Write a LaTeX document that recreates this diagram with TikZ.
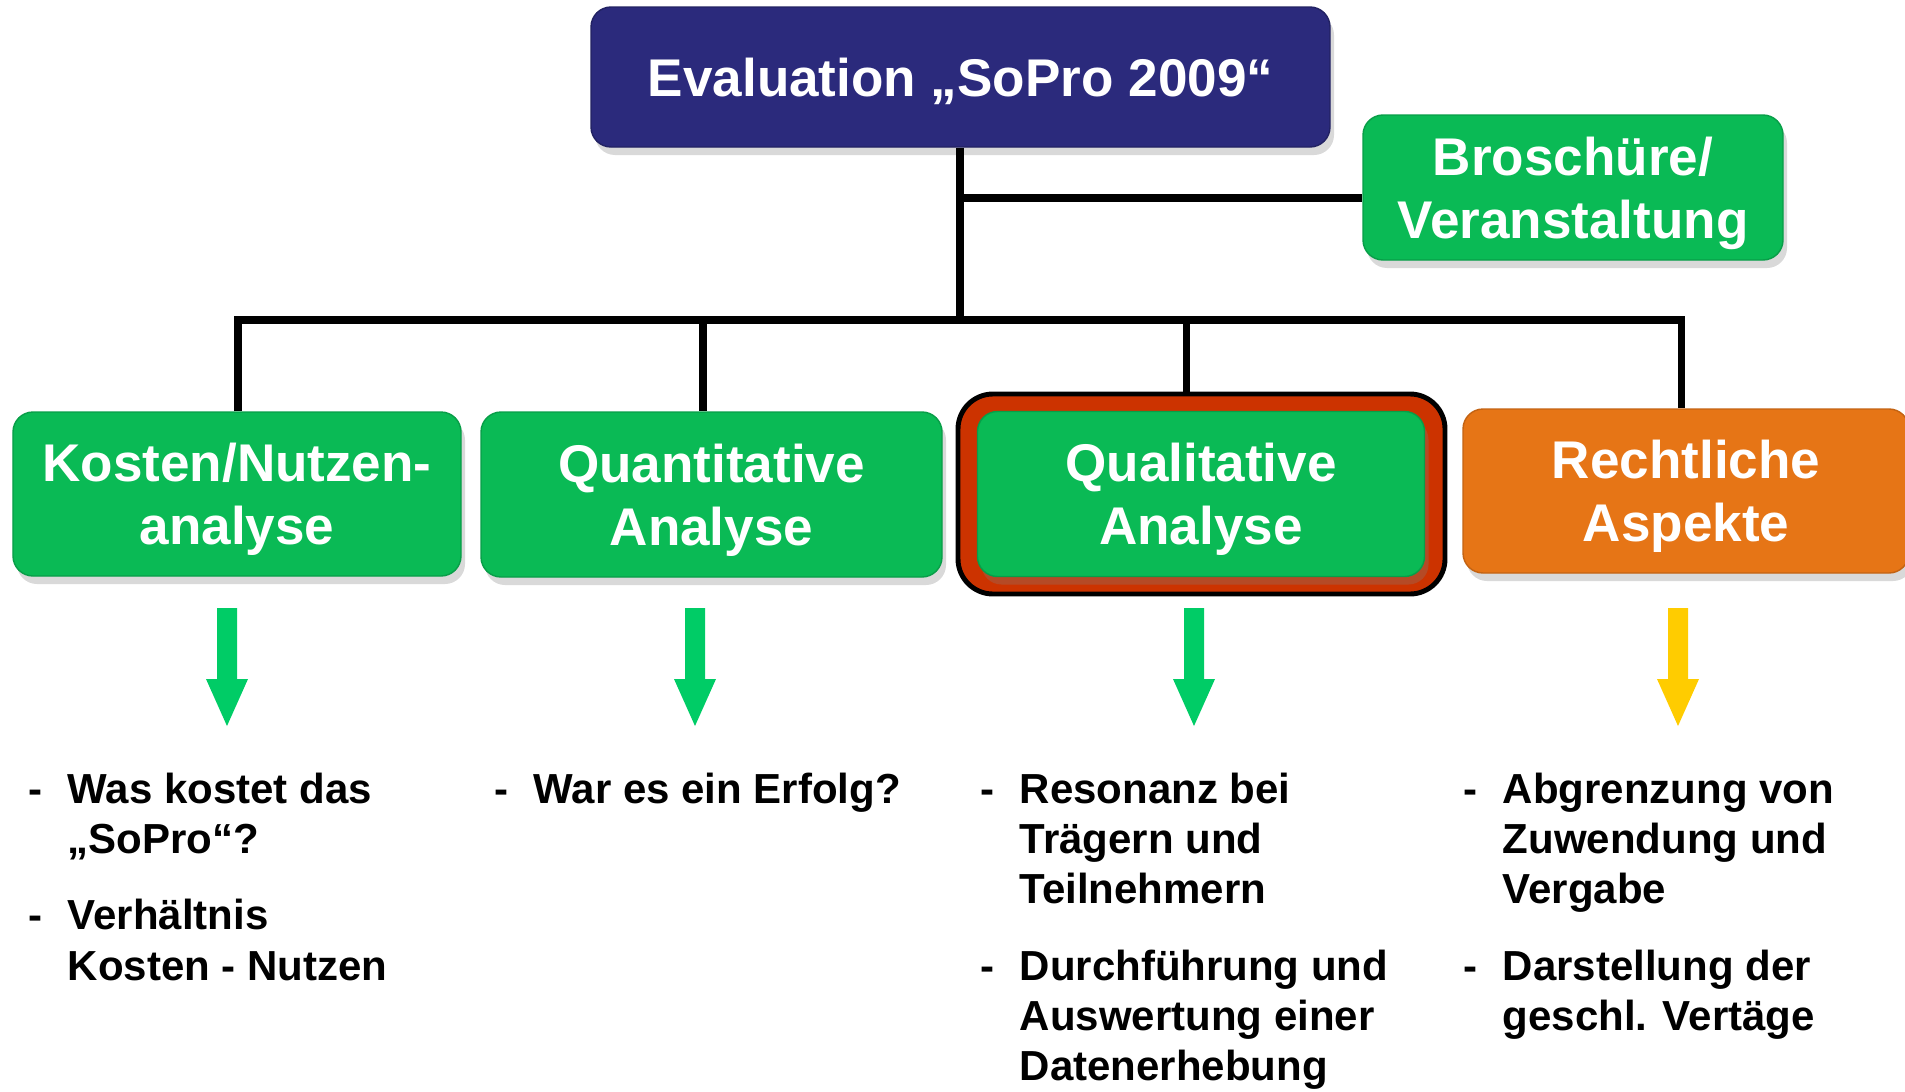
\documentclass[tikz,border=0pt]{standalone}
\usepackage{fontspec}
\setmainfont{Liberation Sans}
\usetikzlibrary{shadows}
\definecolor{evalblau}{RGB}{43,42,124}
\definecolor{boxgruen}{RGB}{10,186,85}
\definecolor{boxorange}{RGB}{230,117,22}
\definecolor{rahmenrot}{RGB}{204,51,0}
\definecolor{pfeilgruen}{RGB}{0,204,102}
\definecolor{pfeilgelb}{RGB}{255,204,0}
\newcommand{\blockpfeil}[2]{\fill[#2] (#1-0.10,-6.08)--(#1+0.10,-6.08)--(#1+0.10,-6.79)--(#1+0.21,-6.79)--(#1,-7.26)--(#1-0.21,-6.79)--(#1-0.10,-6.79)--cycle;}
\begin{document}
\begin{tikzpicture}[
 kasten/.style={rounded corners=0.2cm,text=white,align=center,inner sep=0pt,text depth=0pt,
  font=\fontsize{15.1}{17.9}\selectfont\bfseries,
  drop shadow={shadow xshift=0.4mm,shadow yshift=-0.8mm,opacity=0.3}},
 gruen/.style={kasten,fill=boxgruen,draw=boxgruen!85!black,thin},
 conn/.style={line width=2pt},
 liste/.style={anchor=base west,inner sep=0pt,font=\fontsize{11.95}{14.3}\selectfont\bfseries}]
 \useasboundingbox (0,0) rectangle (19.05,-10.91);
 \node[kasten,fill=evalblau,draw=evalblau!80!black,thin,minimum width=7.39cm,minimum height=1.40cm] (eval) at (9.605,-0.77) {Evaluation „SoPro 2009“};
 \node[gruen,minimum width=4.20cm,minimum height=1.45cm] (bro) at (15.73,-1.875) {Broschüre/\\Veranstaltung};
 \node[gruen,minimum width=4.48cm,minimum height=1.64cm] (kosten) at (2.37,-4.94) {Kosten/Nutzen-\\analyse};
 \node[gruen,minimum width=4.61cm,minimum height=1.65cm] (quan) at (7.115,-4.945) {Quantitative\\Analyse};
 \node[draw=black,line width=1.4pt,fill=rahmenrot,rounded corners=0.35cm,minimum width=4.87cm,minimum height=2.0cm] (rahmen) at (12.015,-4.94) {};
 \node[gruen,minimum width=4.47cm,minimum height=1.65cm] (qual) at (12.01,-4.94) {Qualitative\\Analyse};
 \node[kasten,fill=boxorange,draw=boxorange!85!black,thin,minimum width=4.46cm,minimum height=1.64cm] (recht) at (16.86,-4.91) {Rechtliche\\Aspekte};
 \coordinate (b1) at (2.38,-3.20);
 \coordinate (b2) at (7.03,-3.20);
 \coordinate (b3) at (11.86,-3.20);
 \coordinate (b4) at (16.81,-3.20);
 \coordinate (bmitte) at (9.60,-3.20);
 \coordinate (bbro) at (9.60,-1.98);
 \draw[conn] (eval.south -| bmitte) -- (bmitte);
 \draw[conn] (bbro) -- (bbro -| bro.west);
 \draw[conn] (b1 |- kosten.north) -- (b1) -- (b4) -- (b4 |- recht.north);
 \draw[conn] (b2) -- (b2 |- quan.north);
 \draw[conn] (b3) -- (b3 |- rahmen.north);
 \blockpfeil{2.27}{pfeilgruen}
 \blockpfeil{6.95}{pfeilgruen}
 \blockpfeil{11.94}{pfeilgruen}
 \blockpfeil{16.78}{pfeilgelb}
 \node[liste] (l1) at (0.28,-8.03) {\begin{tabular}[t]{@{}l@{\hspace{2.5mm}}l@{}}
 -&Was kostet das\\
 &„SoPro“?\\[7.5pt]
 -&Verhältnis\\
 &Kosten - Nutzen
 \end{tabular}};
 \node[liste] (l2) at (4.94,-8.03) {\begin{tabular}[t]{@{}l@{\hspace{2.5mm}}l@{}}
 -&War es ein Erfolg?
 \end{tabular}};
 \node[liste] (l3) at (9.80,-8.03) {\begin{tabular}[t]{@{}l@{\hspace{2.5mm}}l@{}}
 -&Resonanz bei\\
 &Trägern und\\
 &Teilnehmern\\[7.5pt]
 -&Durchführung und\\
 &Auswertung einer\\
 &Datenerhebung
 \end{tabular}};
 \node[liste] (l4) at (14.63,-8.03) {\begin{tabular}[t]{@{}l@{\hspace{2.5mm}}l@{}}
 -&Abgrenzung von\\
 &Zuwendung und\\
 &Vergabe\\[7.5pt]
 -&Darstellung der\\
 &geschl. Vertäge
 \end{tabular}};
\end{tikzpicture}
\end{document}
